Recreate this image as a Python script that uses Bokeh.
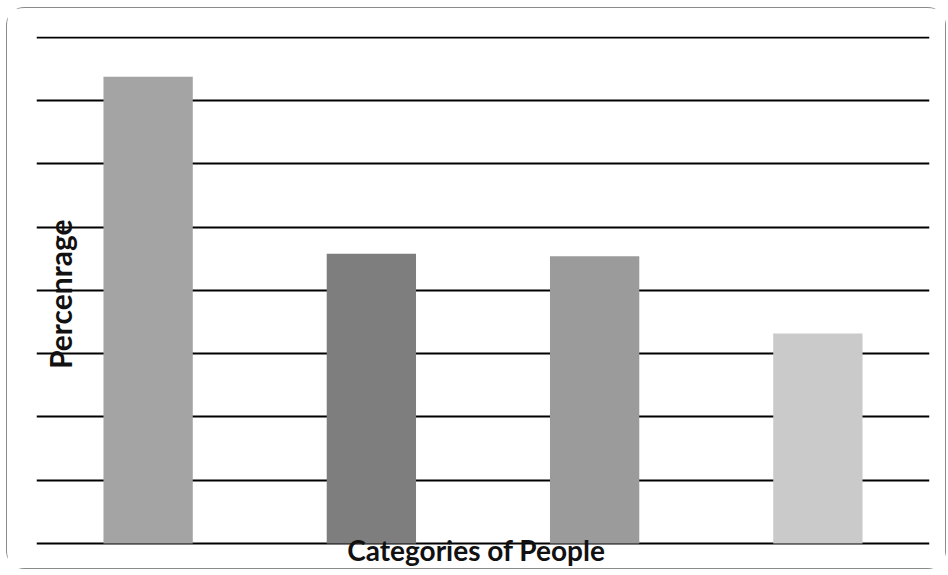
from bokeh.plotting import figure
from bokeh.models import ColumnDataSource, FixedTicker, Label, Range1d
from bokeh.embed import file_html
from bokeh.resources import INLINE

# Data (y grid assumed 0-40 % in steps of 5)
categories = ["Category 1", "Category 2", "Category 3", "Category 4"]
percentages = [36.9, 22.9, 22.7, 16.6]
bar_colors = ["#a4a4a4", "#7e7e7e", "#9b9b9b", "#cacaca"]
grid_ticks = [0, 5, 10, 15, 20, 25, 30, 35, 40]
y_label = "Percenrage"
x_label = "Categories of People"

positions = [i + 0.5 for i in range(len(categories))]
src = ColumnDataSource(dict(x=positions, top=percentages, color=bar_colors, cat=categories))

# frame extends a little below 0 so the x label (which overlaps the baseline) sits inside it
p = figure(width=940, height=562, output_backend="svg", toolbar_location=None,
           x_range=Range1d(0, len(categories)), y_range=Range1d(-1.98, 40.08),
           min_border_left=29, min_border_right=18, min_border_top=28, min_border_bottom=2)
p.styles = {"margin-left": "6px", "margin-top": "7px", "border": "1px solid #8a8a8a",
            "border-radius": "18px", "box-sizing": "border-box"}
p.outline_line_color = None
p.background_fill_color = "white"
p.border_fill_color = "white"
p.axis.visible = False
p.xgrid.grid_line_color = None
p.ygrid.ticker = FixedTicker(ticks=grid_ticks)
p.ygrid.grid_line_color = "black"
p.ygrid.grid_line_width = 2

p.vbar(x="x", top="top", bottom=0, width=0.4, color="color", line_color=None, source=src)

p.add_layout(Label(x=0.105, y=19.7, text=y_label, angle=1.5708, text_align="center",
                   text_baseline="middle", text_font="Lato", text_font_style="bold",
                   text_font_size="30px", text_color="#111111"))
p.add_layout(Label(x=1.97, y=0.85, text=x_label, text_align="center", text_baseline="top",
                   text_font="Lato", text_font_style="bold",
                   text_font_size="28px", text_color="#111111"))

open("out.html", "w").write(file_html(p, INLINE))
